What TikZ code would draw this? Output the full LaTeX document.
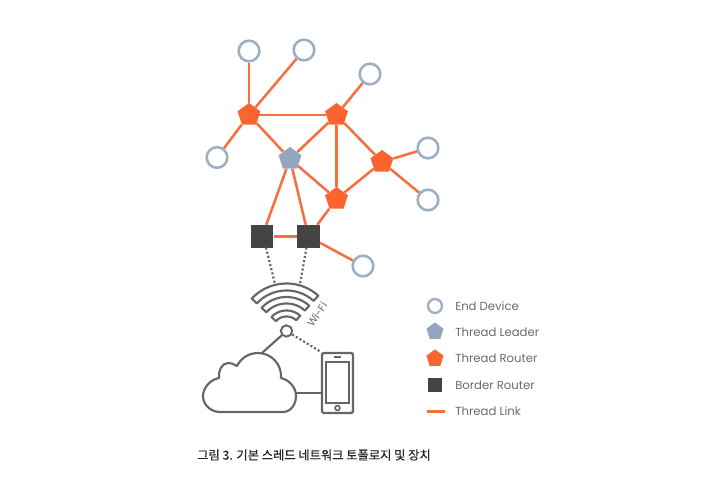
\documentclass[tikz,border=0pt]{standalone}
\usepackage{fontspec}
\usetikzlibrary{shapes.geometric}
\setmainfont{Poppins}
\newfontfamily\krfont[FakeBold=0.5]{Noto Sans CJK KR}
\definecolor{linkc}{HTML}{F4703C}
\definecolor{routerc}{HTML}{FB6430}
\definecolor{leaderc}{HTML}{92A6BD}
\definecolor{endc}{HTML}{9CAFC3}
\definecolor{borderc}{HTML}{444444}
\definecolor{grayc}{HTML}{666664}
\definecolor{textc}{HTML}{6A6A6A}
\tikzset{
 enddev/.style={circle,draw=endc,line width=1.9pt,fill=white,minimum size=15.5pt,inner sep=0pt},
 pent/.style={regular polygon,regular polygon sides=5,minimum size=18pt,inner sep=0pt},
 router/.style={pent,fill=routerc},
 leader/.style={pent,fill=leaderc},
 bsquare/.style={rectangle,fill=borderc,minimum size=17pt,inner sep=0pt},
 tlink/.style={draw=linkc,line width=1.9pt},
 tlinkb/.style={draw=linkc,line width=2.2pt},
 dots/.style={draw=grayc,line width=1.6pt,dash pattern=on 1.6pt off 1.6pt},
 gline/.style={draw=grayc,line width=1.6pt,line join=round},
 legtext/.style={anchor=west,text=textc,font=\fontsize{8.75pt}{11pt}\selectfont,inner sep=0pt},
}
\begin{document}
\begin{tikzpicture}[x=0.75pt,y=-0.75pt]
\fill[white] (0,0) rectangle (726,477);
\useasboundingbox (0,0) rectangle (726,477);
% nodes
\node[enddev] (e1) at (249,51) {};
\node[enddev] (e2) at (304,50) {};
\node[enddev] (e3) at (370,74) {};
\node[enddev] (e4) at (217,157.5) {};
\node[enddev] (e5) at (428,148) {};
\node[enddev] (e6) at (428,200) {};
\node[enddev] (e7) at (363,266) {};
\node[router] (r1) at (249,115) {};
\node[router] (r2) at (336.5,115) {};
\node[router] (r3) at (382,162) {};
\node[router] (r4) at (336.5,199) {};
\node[leader] (l) at (290,159) {};
\node[bsquare] (b1) at (262,236.5) {};
\node[bsquare] (b2) at (308.5,236.5) {};
% links
\draw[tlinkb] (r1) -- (e1);
\draw[tlink] (r1) -- (e2);
\draw[tlink] (r1) -- (e4);
\draw[tlinkb] (r1) -- (r2);
\draw[tlink] (r1) -- (l);
\draw[tlink] (r2) -- (e3);
\draw[tlink] (r2) -- (l);
\draw[tlink] (r2) -- (r4);
\draw[tlink] (r2) -- (r3);
\draw[tlink] (r3) -- (e5);
\draw[tlink] (r3) -- (e6);
\draw[tlink] (r3) -- (r4);
\draw[tlink] (l) -- (r4);
\draw[tlink] (l) -- (b1);
\draw[tlink] (l) -- (b2);
\draw[tlink] (r4) -- (b2);
\draw[tlinkb] (b1) -- (b2);
\draw[tlink] (b2) -- (e7);
% wifi
\foreach \ro/\ri in {47.5/40.5,34/27.5,20.5/14.5}{
 \draw[gline] plot[domain=137:48,samples=30] ({286.5+\ro*cos(\x)},{331-\ro*sin(\x)})
   -- plot[domain=48:137,samples=30] ({286.5+\ri*cos(\x)},{331-\ri*sin(\x)}) -- cycle;
}
\coordinate (w1) at (275,284);
\coordinate (w2) at (300,284);
\draw[dots] (b1) ++(4,11) -- (w1);
\draw[dots] (b2) ++(-2,11) -- (w2);
\node[circle,draw=grayc,line width=1.5pt,fill=white,minimum size=8.5pt,inner sep=0pt] (hub) at (286.5,331) {};
\node[text=textc,rotate=56,font=\fontsize{8pt}{9pt}\selectfont,inner sep=0pt] (wifi) at (317,314.5) {Wi-Fi};
% cloud
\coordinate (cloudtop) at (262,353);
\coordinate (cloudright) at (296,393);
\draw[gline] (220,412) -- (283,412) .. controls (291,412) and (296,404) .. (296,396)
 .. controls (296,387) and (289,380) .. (281,378)
 .. controls (282,364) and (271,353) .. (258,353)
 .. controls (249,353) and (241,358) .. (237,366)
 .. controls (234,364) and (231,363) .. (228,363)
 .. controls (222,363) and (218,371) .. (219,378)
 .. controls (209,380) and (203,389) .. (203,396)
 .. controls (203,405) and (211,412) .. (220,412) -- cycle;
% phone
\node[rectangle,rounded corners=1.5pt,draw=grayc,line width=1.7pt,minimum width=23.25pt,minimum height=45pt,inner sep=0pt] (phone) at (337.5,383) {};
\node[rectangle,draw=grayc,line width=1.7pt,minimum width=17.25pt,minimum height=30.75pt,inner sep=0pt] (screen) at (337.5,382.5) {};
\node[circle,draw=grayc,line width=1.3pt,minimum size=3.6pt,inner sep=0pt] (homeb) at (337.5,408) {};
\coordinate (sp1) at (334,357);
\coordinate (sp2) at (341,357);
\draw[gline] (sp1) -- (sp2);
\draw[gline] (hub) -- (cloudtop);
\draw[dots] (hub) -- (phone.north west);
\draw[draw=grayc,line width=2pt] (cloudright) -- (phone.west |- cloudright);
% legend
\node[circle,draw=endc,line width=1.7pt,minimum size=10.5pt,inner sep=0pt] (le) at (435,306) {};
\node[pent,fill=leaderc,minimum size=13.5pt] (ll) at (435,331.5) {};
\node[pent,fill=routerc,minimum size=13.5pt] (lr) at (435,358.5) {};
\node[rectangle,fill=borderc,minimum size=11pt,inner sep=0pt] (lb) at (435,385) {};
\coordinate (la) at (427,411.5);
\coordinate (lc) at (445,411.5);
\draw[tlink] (la) -- (lc);
\node[legtext] (t1) at (455,306) {End Device};
\node[legtext] (t2) at (455,332.5) {Thread Leader};
\node[legtext] (t3) at (455,358.5) {Thread Router};
\node[legtext] (t4) at (455,385) {Border Router};
\node[legtext] (t5) at (455,411.5) {Thread Link};
% caption
\node[anchor=west,inner sep=0pt,text=black!85,font=\krfont\fontsize{9.2pt}{12pt}\selectfont] (cap) at (197,455) {그림 3. 기본 스레드 네트워크 토폴로지 및 장치};
\end{tikzpicture}
\end{document}
